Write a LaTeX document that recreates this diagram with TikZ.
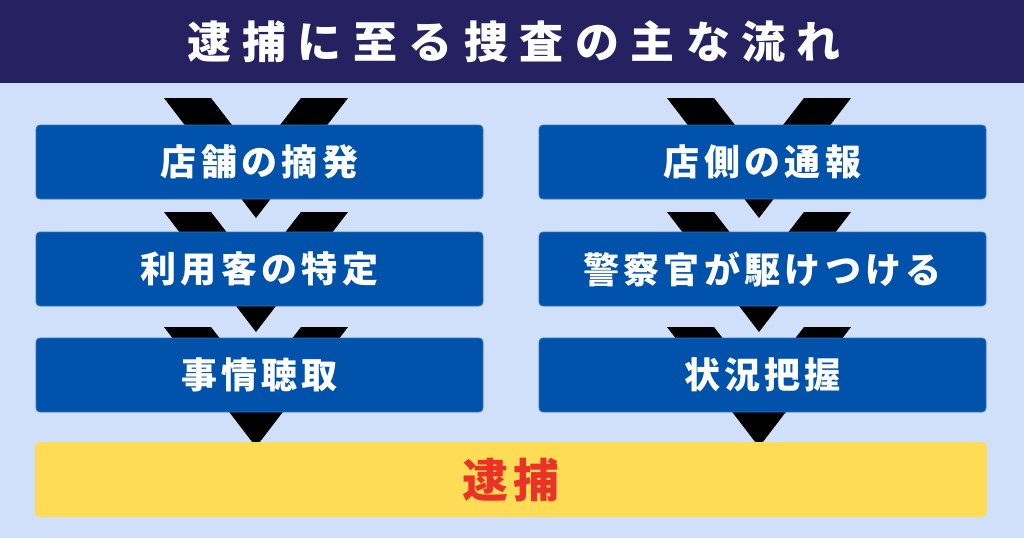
\documentclass[tikz,border=0pt]{standalone}
\usepackage{fontspec}
\setmainfont{Noto Sans CJK JP}
\newfontfamily\titlefont[LetterSpace=26]{Noto Sans CJK JP}
\newfontfamily\boxfont[LetterSpace=12]{Noto Sans CJK JP}
\definecolor{bgblue}{RGB}{208,224,250}
\definecolor{navy}{RGB}{38,34,98}
\definecolor{boxblue}{RGB}{0,82,170}
\definecolor{goldy}{RGB}{255,220,85}
\definecolor{redtxt}{RGB}{235,50,40}
\begin{document}
\begin{tikzpicture}[x=1pt,y=-1pt,
  stepbox/.style={draw=boxblue!80!white,line width=0.8pt,fill=boxblue,rounded corners=4pt,minimum width=447pt,minimum height=74pt,inner sep=0pt,text=white,font=\boxfont\bfseries\fontsize{36}{42}\selectfont},
  finalbox/.style={fill=goldy,rounded corners=5pt,minimum width=952pt,minimum height=75pt,inner sep=0pt,text=redtxt,font=\boxfont\bfseries\fontsize{46}{52}\selectfont},
  chev/.style={fill=black}]
\useasboundingbox (0,0) rectangle (1024,538);
\fill[bgblue] (0,0) rectangle (1024,538);
\fill[navy] (0,0) rectangle (1024,83);
\node[text=white,font=\titlefont\bfseries\fontsize{44}{50}\selectfont] (title) at (514,42) {逮捕に至る捜査の主な流れ};
% chevrons
\foreach \c in {256,759}{
  \foreach \t in {98,212,327}{
    \fill[chev] (\c-92,\t) -- (\c-45,\t) -- (\c,\t+58) -- (\c+45,\t) -- (\c+92,\t) -- (\c,\t+120) -- cycle;
  }
}
% boxes
\node[stepbox] (l1) at (259.5,162) {店舗の摘発};
\node[stepbox] (l2) at (259.5,269) {利用客の特定};
\node[stepbox] (l3) at (259.5,375) {事情聴取};
\node[stepbox] (r1) at (762.5,162) {店側の通報};
\node[stepbox] (r2) at (762.5,269) {警察官が駆けつける};
\node[stepbox] (r3) at (762.5,375) {状況把握};
\node[finalbox] (arrest) at (511,479.5) {逮捕};
\end{tikzpicture}
\end{document}
